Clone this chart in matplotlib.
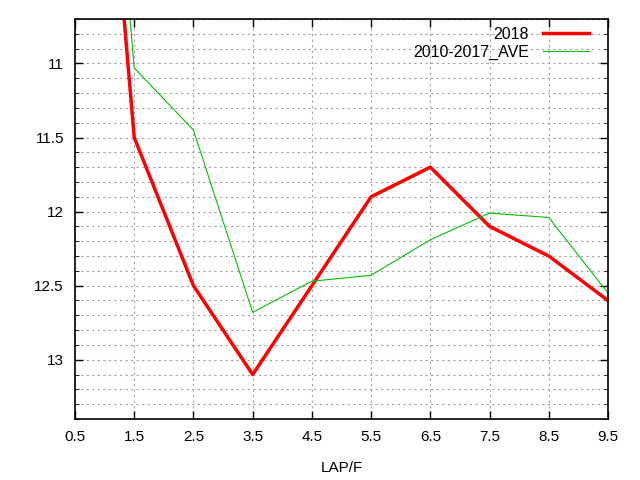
import matplotlib
matplotlib.use("Agg")
import matplotlib.pyplot as plt
from matplotlib.ticker import MultipleLocator

plt.rcParams['font.family'] = ['Liberation Sans', 'DejaVu Sans']

laps = [0.5, 1.5, 2.5, 3.5, 4.5, 5.5, 6.5, 7.5, 8.5, 9.5]
t2018 = [6.8, 11.5, 12.5, 13.1, 12.5, 11.9, 11.7, 12.1, 12.3, 12.6]
tave = [6.4, 11.03, 11.45, 12.68, 12.47, 12.43, 12.19, 12.01, 12.04, 12.55]
xticks = [0.5, 1.5, 2.5, 3.5, 4.5, 5.5, 6.5, 7.5, 8.5, 9.5]
yticks = [11, 11.5, 12, 12.5, 13]

fig = plt.figure(figsize=(6.4, 4.8), dpi=100)
ax = fig.add_axes([75/640, 1-419/480, 533/640, 400/480])

ax.plot(laps, t2018, color="#ff0000", lw=2.5, label="2018")
ax.plot(laps, tave, color="#00c000", lw=0.8, label="2010-2017_AVE")

ax.set_xlim(0.5, 9.5)
ax.set_ylim(13.4, 10.7)
ax.set_xticks(xticks)
ax.set_xticklabels([str(x) for x in xticks])
ax.set_yticks(yticks)
ax.set_yticklabels(["11", "11.5", "12", "12.5", "13"])
ax.yaxis.set_minor_locator(MultipleLocator(0.1))

ax.grid(True, which="major", color="#a0a0a0", linestyle=(0, (2, 3)), lw=0.8)
ax.grid(True, which="minor", axis="y", color="#a0a0a0", linestyle=(0, (2, 3)), lw=0.8)
ax.tick_params(direction="in", top=True, right=True, length=6, width=1, labelsize=11, pad=8)
ax.tick_params(which="minor", direction="in", right=True, left=True, length=3)
ax.tick_params(axis="x", which="minor", bottom=False, top=False)
for s in ax.spines.values():
    s.set_linewidth(1.2)

ax.set_xlabel("LAP/F", fontsize=11, labelpad=12)
ax.legend(loc="upper right", bbox_to_anchor=(0.995, 1.02), frameon=False,
          markerfirst=False, fontsize=11.5, handlelength=2.9, handletextpad=0.9,
          borderaxespad=0.6, labelspacing=0.15)

fig.savefig("out.png", dpi=100)
